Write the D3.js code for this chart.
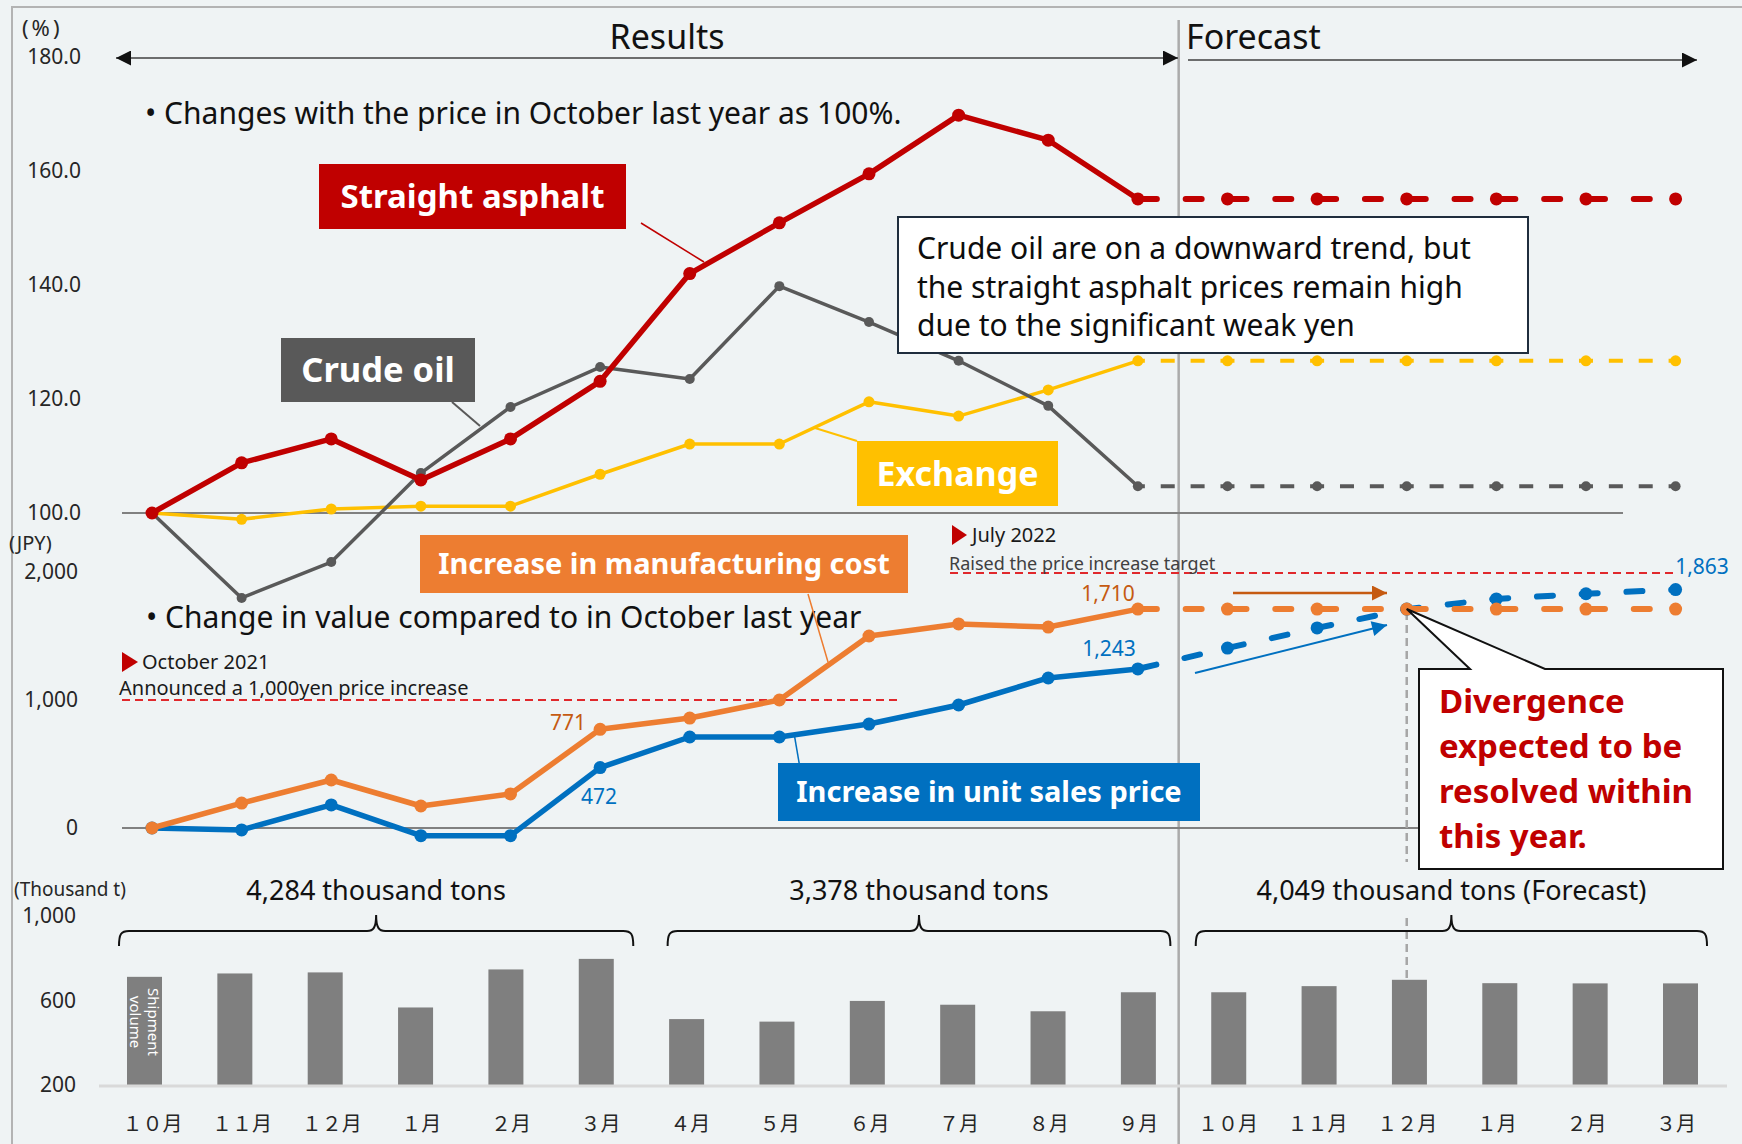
<!DOCTYPE html>
<html><head><meta charset="utf-8">
<script src="https://cdn.jsdelivr.net/npm/d3@7"></script>
<style>
body{margin:0;background:#eff3f4;}
svg{display:block;}
</style>
</head><body>
<svg id="chart" width="1742" height="1144"></svg>
<script>
// ---------- DATA ----------
const monthLabels = ["１０月","１１月","１２月","１月","２月","３月","４月","５月","６月","７月","８月","９月","１０月","１１月","１２月","１月","２月","３月"];
const pctTicks = [100,120,140,160,180];
const jpyTicks = [0,1000,2000];
const volTicks = [200,600,1000];

const asphaltResults  = [100.0,108.8,113.0,105.8,113.0,123.1,142.0,150.9,159.5,169.8,165.4,155.1];
const asphaltForecast = [155.1,155.1,155.1,155.1,155.1,155.1,155.1];
const crudeResults    = [100.0,85.1,91.4,107.0,118.6,125.6,123.5,139.8,133.5,126.7,118.8,104.7];
const crudeForecast   = [104.7,104.7,104.7,104.7,104.7,104.7,104.7];
const exchangeResults = [100.0,98.9,100.7,101.2,101.2,106.8,112.1,112.1,119.5,117.0,121.6,126.7];
const exchangeForecast= [126.7,126.7,126.7,126.7,126.7,126.7,126.7];

const costResults   = [0,195,375,172,266,771,859,1000,1500,1594,1570,1710];
const costForecast  = [1710,1710,1710,1710,1710,1710,1710];
const priceResults  = [0,-15,180,-60,-60,472,711,711,812,961,1172,1243];
const priceForecast = [1243,1406,1563,1710,1790,1830,1863];

const shipments = [712,728,733,567,747,797,512,500,598,580,549,639,639,668,698,682,681,681];

const announcedIncrease = 1000;
const raisedTarget = 2000;
const volumeGroups = [
  {from:0, to:5, label:"4,284 thousand tons"},
  {from:6, to:11, label:"3,378 thousand tons"},
  {from:12, to:17, label:"4,049 thousand tons (Forecast)"}
];
// layout only: brace overhang left/right of outer bars (px)
const bracePad = [[-25.5,37],[-19,32],[-33,26.5]];

// ---------- SETUP ----------
const W = 1742, H = 1144;
const FONT = "'Noto Sans', 'Open Sans', sans-serif";
const CJK = "'Noto Sans CJK JP', 'Noto Sans', sans-serif";
const svg = d3.select("#chart");
const defs = svg.append("defs");
function marker(id, color, w, h){
  defs.append("marker").attr("id",id).attr("viewBox","0 0 10 10")
    .attr("refX",10).attr("refY",5).attr("markerUnits","userSpaceOnUse")
    .attr("markerWidth",w).attr("markerHeight",h).attr("orient","auto-start-reverse")
    .append("path").attr("d","M0,0 L10,5 L0,10 Z").attr("fill",color);
}
marker("arrBlack","#111",16,15);
marker("arrOrange","#c55a11",16,15);
marker("arrBlue","#0070c0",16,15);

const idx = d3.range(monthLabels.length);
const xPt  = d3.scalePoint().domain(idx).range([152, 1675.6]);
const xBar = d3.scalePoint().domain(idx).range([144.5, 1680.5]);
const yPct = d3.scaleLinear().domain([100,180]).range([513,57]);
const yJpy = d3.scaleLinear().domain([0,2000]).range([828,572]);
const yVol = d3.scaleLinear().domain([200,1000]).range([1085,916]);
const nRes = 11; // index of last result month

svg.append("rect").attr("width",W).attr("height",H).attr("fill","#eff3f4");
svg.append("path").attr("d","M12,1144 L12,7 L1742,7").attr("fill","none")
  .attr("stroke","#b3b3b3").attr("stroke-width",2);

// divider
const divX = (xPt(nRes)+xPt(nRes+1))/2 - 4;
svg.append("line").attr("x1",divX).attr("x2",divX).attr("y1",20).attr("y2",H)
  .attr("stroke","#ababab").attr("stroke-width",2.5);

// ---------- AXES ----------
function styleAxis(g, size, fam){
  g.select(".domain").remove();
  g.attr("font-family",fam).attr("font-size",size);
  g.selectAll("text").attr("fill","#262626");
}
styleAxis(svg.append("g").attr("transform","translate(84,0)")
  .call(d3.axisLeft(yPct).tickValues(pctTicks).tickFormat(d3.format(".1f")).tickSize(0).tickPadding(3)), 21, FONT);
styleAxis(svg.append("g").attr("transform","translate(81,0)")
  .call(d3.axisLeft(yJpy).tickValues(jpyTicks).tickFormat(d3.format(",")).tickSize(0).tickPadding(3)), 21, FONT);
styleAxis(svg.append("g").attr("transform","translate(79,0)")
  .call(d3.axisLeft(yVol).tickValues(volTicks).tickFormat(d3.format(",")).tickSize(0).tickPadding(3)), 21, FONT);
const gm = svg.append("g").attr("transform","translate(0,1124)")
  .call(d3.axisBottom(xPt).tickFormat(i=>monthLabels[i]).tickSize(0).tickPadding(0));
styleAxis(gm, 20, CJK);
gm.selectAll("text").attr("y",0).attr("dy","0.35em");

function txt(x,y,s,size,opts={}){
  const t = svg.append("text").attr("x",x).attr("y",y).text(s)
    .attr("font-family",opts.fam||FONT).attr("font-size",size)
    .attr("fill",opts.fill||"#111").attr("text-anchor",opts.anchor||"start")
    .attr("font-weight",opts.weight||"normal");
  if(opts.ls) t.attr("letter-spacing",opts.ls);
  return t;
}
txt(22,36,"(%)",22,{ls:3,fill:"#262626"});
txt(9,550,"(JPY)",20,{fill:"#262626"});
txt(14,896,"(Thousand t)",19,{fill:"#262626"});

// reference lines
svg.append("line").attr("x1",122).attr("x2",1623).attr("y1",yPct(100)).attr("y2",yPct(100))
  .attr("stroke","#808080").attr("stroke-width",2);
svg.append("line").attr("x1",122).attr("x2",1624).attr("y1",yJpy(0)).attr("y2",yJpy(0))
  .attr("stroke","#808080").attr("stroke-width",2);
svg.append("line").attr("x1",122).attr("x2",898).attr("y1",yJpy(announcedIncrease)).attr("y2",yJpy(announcedIncrease))
  .attr("stroke","#e0282c").attr("stroke-width",2).attr("stroke-dasharray","8,5");
svg.append("line").attr("x1",950).attr("x2",1678).attr("y1",yJpy(raisedTarget)+1).attr("y2",yJpy(raisedTarget)+1)
  .attr("stroke","#e0282c").attr("stroke-width",2).attr("stroke-dasharray","8,5");

// top arrows
svg.append("line").attr("x1",116).attr("x2",1178).attr("y1",58).attr("y2",58)
  .attr("stroke","#404040").attr("stroke-width",1.5)
  .attr("marker-start","url(#arrBlack)").attr("marker-end","url(#arrBlack)");
svg.append("line").attr("x1",1188).attr("x2",1697).attr("y1",60).attr("y2",60)
  .attr("stroke","#404040").attr("stroke-width",1.5).attr("marker-end","url(#arrBlack)");
txt(667,49,"Results",34,{anchor:"middle"});
txt(1186,49,"Forecast",34);
txt(145,124,"• Changes with the price in October last year as 100%.",30);
txt(146,628,"• Change in value compared to in October last year",30);

// gray dashed vertical (12月 forecast)
const vx = xPt(14);
[[612,862],[918,1083]].forEach(([a,b])=>{
  svg.append("line").attr("x1",vx).attr("x2",vx).attr("y1",a).attr("y2",b)
    .attr("stroke","#a6a6a6").attr("stroke-width",2.5).attr("stroke-dasharray","8,5");
});

// ---------- BARS ----------
svg.append("g").selectAll("rect").data(shipments).join("rect")
  .attr("x",(d,i)=>xBar(i)-17.5).attr("width",35)
  .attr("y",d=>yVol(d)).attr("height",d=>yVol(200)-yVol(d)).attr("fill","#7f7f7f");
svg.append("line").attr("x1",99).attr("x2",1727).attr("y1",1086).attr("y2",1086)
  .attr("stroke","#d9d9d9").attr("stroke-width",3);
const sv = svg.append("text").attr("transform",`translate(${xBar(0)},1022) rotate(90)`)
  .attr("font-family",FONT).attr("font-size",15).attr("fill","#fff").attr("text-anchor","middle");
sv.append("tspan").attr("x",0).attr("y",-9).attr("dy","0.35em").text("Shipment");
sv.append("tspan").attr("x",0).attr("y",9).attr("dy","0.35em").text("volume");

// braces
volumeGroups.forEach((g,k)=>{
  const x1 = xBar(g.from)+bracePad[k][0], x2 = xBar(g.to)+bracePad[k][1], xm = (x1+x2)/2;
  const yT = 931, yE = 946, yTip = 915;
  const d = `M${x1},${yE} C${x1},${yT+3} ${x1+2},${yT} ${x1+10},${yT} L${xm-9},${yT} C${xm-3},${yT} ${xm},${yT-3} ${xm},${yTip} C${xm},${yT-3} ${xm+3},${yT} ${xm+9},${yT} L${x2-10},${yT} C${x2-2},${yT} ${x2},${yT+3} ${x2},${yE}`;
  svg.append("path").attr("d",d).attr("fill","none").attr("stroke","#111").attr("stroke-width",2);
  txt(xm,900,g.label,27,{anchor:"middle"});
});

// ---------- LINES ----------
function series(res, fc, y, color, w, r, dash, dashOff, cap){
  const lr = d3.line().x((d,i)=>xPt(i)).y(d=>y(d));
  const lf = d3.line().x((d,i)=>xPt(i+nRes)).y(d=>y(d));
  svg.append("path").attr("d",lf(fc)).attr("fill","none").attr("stroke",color)
    .attr("stroke-width",w+0.5).attr("stroke-dasharray",dash).attr("stroke-dashoffset",dashOff)
    .attr("stroke-linecap",cap);
  svg.append("path").attr("d",lr(res)).attr("fill","none").attr("stroke",color)
    .attr("stroke-width",w).attr("stroke-linejoin","round");
  svg.append("g").selectAll("circle").data(res).join("circle")
    .attr("cx",(d,i)=>xPt(i)).attr("cy",d=>y(d)).attr("r",r).attr("fill",color);
  svg.append("g").selectAll("circle").data(fc.slice(1)).join("circle")
    .attr("cx",(d,i)=>xPt(i+nRes+1)).attr("cy",d=>y(d)).attr("r",r).attr("fill",color);
}
const step = xPt.step();
series(exchangeResults, exchangeForecast, yPct, "#ffc000", 3.5, 5.5, `14,${step/3-14}`, 7, "butt");
series(crudeResults, crudeForecast, yPct, "#595959", 3.5, 5, `14,${step/3-14}`, 7, "butt");
series(asphaltResults, asphaltForecast, yPct, "#c00000", 5.5, 6.5, `16,${step/2-16}`, -3, "round");
series(priceResults, priceForecast, yJpy, "#0070c0", 5.5, 6.5, `16,${step/2-16}`, -3, "round");
series(costResults, costForecast, yJpy, "#ed7d31", 5.5, 6.5, `16,${step/2-16}`, -3, "round");

// arrows in lower panel
svg.append("line").attr("x1",1233).attr("x2",1387).attr("y1",593).attr("y2",593)
  .attr("stroke","#c55a11").attr("stroke-width",2.5).attr("marker-end","url(#arrOrange)");
svg.append("line").attr("x1",1195).attr("x2",1387).attr("y1",673).attr("y2",625)
  .attr("stroke","#0070c0").attr("stroke-width",2).attr("marker-end","url(#arrBlue)");

// value labels
txt(568,730,"771",21,{anchor:"middle",fill:"#c55a11"});
txt(599,804,"472",21,{anchor:"middle",fill:"#0070c0"});
txt(1108,601,"1,710",21,{anchor:"middle",fill:"#c55a11"});
txt(1109,656,"1,243",21,{anchor:"middle",fill:"#0070c0"});
txt(1702,574,"1,863",21,{anchor:"middle",fill:"#0070c0"});

// annotations
svg.append("path").attr("d","M122,652 L122,672 L138,662 Z").attr("fill","#c00000");
txt(142,669,"October 2021",20,{fill:"#1a1a1a"});
txt(119,695,"Announced a 1,000yen price increase",20,{fill:"#1a1a1a"});
svg.append("path").attr("d","M952,525 L952,545 L967,535 Z").attr("fill","#c00000");
txt(972,542,"July 2022",20,{fill:"#1a1a1a"});
txt(949,570,"Raised the price increase target",18,{fill:"#404040"});

// ---------- LABEL BOXES ----------
function leader(x1,y1,x2,y2,c,w){
  svg.append("line").attr("x1",x1).attr("y1",y1).attr("x2",x2).attr("y2",y2).attr("stroke",c).attr("stroke-width",w);
}
function box(x,y,w,h,fill,label,size){
  svg.append("rect").attr("x",x).attr("y",y).attr("width",w).attr("height",h).attr("fill",fill);
  txt(x+w/2, y+h/2+size*0.36, label, size, {anchor:"middle", fill:"#fff", weight:"bold"});
}
leader(641,223,704,262,"#c00000",1.5);
leader(452,402,480,426,"#595959",2);
leader(857,441,815,428,"#ffc000",2);
leader(808,594,828,662,"#ed7d31",1.5);
leader(794,733,800,768,"#0070c0",1.5);
box(319,164,307,65,"#c00000","Straight asphalt",33);
box(281,338,194,64,"#595959","Crude oil",34.5);
box(857,441,201,65,"#ffc000","Exchange",34);
box(420,535,488,58,"#ed7d31","Increase in manufacturing cost",29);
box(778,763,422,58,"#0070c0","Increase in unit sales price",29);

// ---------- CALLOUTS ----------
svg.append("rect").attr("x",898).attr("y",217).attr("width",630).attr("height",136)
  .attr("fill","#fff").attr("stroke","#1f2d3d").attr("stroke-width",2);
["Crude oil are on a downward trend, but",
 "the straight asphalt prices remain high",
 "due to the significant weak yen"].forEach((s,i)=>txt(917,259+i*38.5,s,30,{fill:"#0d0d0d"}));

svg.append("path").attr("d","M1419,669 L1470,669 L"+xPt(14)+",609 L1545,669 L1723,669 L1723,869 L1419,869 Z")
  .attr("fill","#fff").attr("stroke","#111").attr("stroke-width",2).attr("stroke-linejoin","miter");
["Divergence","expected to be","resolved within","this year."]
  .forEach((s,i)=>txt(1439,713+i*45,s,33,{fill:"#c00000",weight:"bold"}));
</script>
</body></html>
